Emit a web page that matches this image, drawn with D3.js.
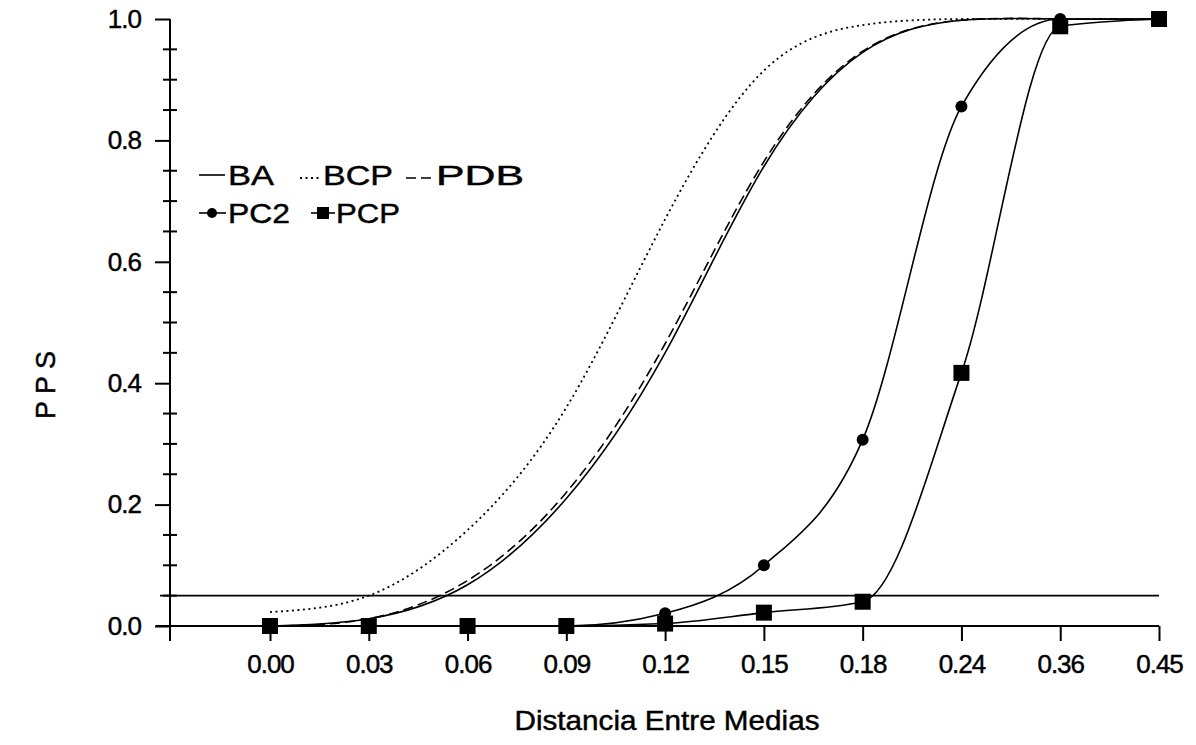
<!DOCTYPE html>
<html>
<head>
<meta charset="utf-8">
<script src="https://cdn.jsdelivr.net/npm/d3@7"></script>
<style>
  html, body { margin: 0; padding: 0; background: #fff; }
  svg { display: block; }
  text { font-family: "Liberation Sans", Arial, sans-serif; fill: #000; stroke: #000; stroke-width: 0.45px; }
</style>
</head>
<body>
<svg id="chart" width="1196" height="745"></svg>
<script>
// ---- data ----
const categories = ["0.00","0.03","0.06","0.09","0.12","0.15","0.18","0.24","0.36","0.45"];
const BA  = [0.000, 0.012, 0.068, 0.210, 0.450, 0.757, 0.945, 0.998, 1.000, 1.000];
const BCP = [0.023, 0.050, 0.158, 0.360, 0.670, 0.915, 0.990, 1.000, 1.000, 1.000];
const PDB = [0.000, 0.012, 0.075, 0.220, 0.465, 0.765, 0.947, 0.998, 1.000, 1.000];
const PC2 = [0.000, 0.000, 0.000, 0.000, 0.021, 0.100, 0.307, 0.856, 1.000, 1.000];
const PCP = [0.000, 0.000, 0.000, 0.000, 0.004, 0.022, 0.040, 0.417, 0.988, 1.000];
const yTicks = [0, 0.2, 0.4, 0.6, 0.8, 1.0];
const yMinor = d3.range(0, 1.0001, 0.05);
const refLine = 0.05;
const xTitle = "Distancia Entre Medias";
const yTitle = "P P S";

// ---- layout ----
const svg = d3.select("#chart");
const axisX = 170, axisBottom = 626, axisTop = 19;
const x = d3.scalePoint().domain(categories).range([270, 1159]);
const y = d3.scaleLinear().domain([0, 1]).range([axisBottom, axisTop]);

const g = svg.append("g");

// reference line at 0.05
g.append("line")
  .attr("x1", 160).attr("x2", x("0.45"))
  .attr("y1", y(refLine)).attr("y2", y(refLine))
  .attr("stroke", "#000").attr("stroke-width", 1.6);

// x axis baseline
g.append("line")
  .attr("x1", 156).attr("x2", x("0.45"))
  .attr("y1", y(0)).attr("y2", y(0))
  .attr("stroke", "#000").attr("stroke-width", 2);

// y axis line
g.append("line")
  .attr("x1", axisX).attr("x2", axisX)
  .attr("y1", y(1)).attr("y2", 641)
  .attr("stroke", "#000").attr("stroke-width", 2);

// y axis major ticks + labels
const yAxis = d3.axisLeft(y).tickValues(yTicks).tickFormat(d3.format(".1f"))
  .tickSize(15).tickPadding(14).tickSizeOuter(0);
const gy = g.append("g").attr("transform", `translate(${axisX},0)`).call(yAxis);
gy.select(".domain").remove();
gy.selectAll(".tick line").attr("stroke", "#000").attr("stroke-width", 2);
gy.selectAll(".tick text").attr("font-size", 26).style("font-family", "Liberation Sans, Arial, sans-serif")
  .attr("letter-spacing", -1);

// y minor ticks
g.append("g").selectAll("line")
  .data(yMinor.filter(v => !yTicks.some(t => Math.abs(t - v) < 1e-6)))
  .join("line")
  .attr("x1", axisX - 7).attr("x2", axisX + 7)
  .attr("y1", d => y(d)).attr("y2", d => y(d))
  .attr("stroke", "#000").attr("stroke-width", 2);

// x axis ticks + labels
const xAxis = d3.axisBottom(x).tickSize(15).tickPadding(14).tickSizeOuter(0);
const gx = g.append("g").attr("transform", `translate(0,${axisBottom})`).call(xAxis);
gx.select(".domain").remove();
gx.selectAll(".tick line").attr("stroke", "#000").attr("stroke-width", 2);
gx.selectAll(".tick text").attr("font-size", 26).style("font-family", "Liberation Sans, Arial, sans-serif")
  .attr("letter-spacing", -1);

// ---- series ----
const lineNatural = d3.line().x((d, i) => x(categories[i])).y(d => y(d)).curve(d3.curveNatural);
const lineMono = d3.line().x((d, i) => x(categories[i])).y(d => y(d)).curve(d3.curveMonotoneX);

g.append("path").attr("d", lineNatural(BCP)).attr("fill", "none")
  .attr("stroke", "#000").attr("stroke-width", 1.8).attr("stroke-dasharray", "2,3.5");
g.append("path").attr("d", lineNatural(PDB)).attr("fill", "none")
  .attr("stroke", "#000").attr("stroke-width", 1.6).attr("stroke-dasharray", "10,5");
g.append("path").attr("d", lineNatural(BA)).attr("fill", "none")
  .attr("stroke", "#000").attr("stroke-width", 1.6);
g.append("path").attr("d", lineMono(PC2)).attr("fill", "none")
  .attr("stroke", "#000").attr("stroke-width", 1.6);
g.append("path").attr("d", lineMono(PCP)).attr("fill", "none")
  .attr("stroke", "#000").attr("stroke-width", 1.6);

g.append("g").selectAll("circle").data(PC2).join("circle")
  .attr("cx", (d, i) => x(categories[i])).attr("cy", d => y(d)).attr("r", 6).attr("fill", "#000");
g.append("g").selectAll("rect").data(PCP).join("rect")
  .attr("x", (d, i) => x(categories[i]) - 8).attr("y", d => y(d) - 8)
  .attr("width", 16).attr("height", 16).attr("fill", "#000");

// ---- legend ----
const leg = g.append("g");
const row1 = 175, row2 = 213;
function legText(xp, yp, t, w) {
  leg.append("text").attr("x", xp).attr("y", yp + 10).attr("font-size", 28)
    .attr("textLength", w).attr("lengthAdjust", "spacingAndGlyphs").text(t);
}
leg.append("line").attr("x1", 199).attr("x2", 225).attr("y1", row1).attr("y2", row1)
  .attr("stroke", "#000").attr("stroke-width", 1.6);
legText(228, row1, "BA", 46);
leg.append("line").attr("x1", 300).attr("x2", 321).attr("y1", row1 + 3).attr("y2", row1 + 3)
  .attr("stroke", "#000").attr("stroke-width", 1.8).attr("stroke-dasharray", "2,3.5");
legText(323, row1, "BCP", 70);
leg.append("line").attr("x1", 406).attr("x2", 433).attr("y1", row1 + 3).attr("y2", row1 + 3)
  .attr("stroke", "#000").attr("stroke-width", 1.6).attr("stroke-dasharray", "10,5");
legText(436, row1, "PDB", 88);
leg.append("line").attr("x1", 199).attr("x2", 226).attr("y1", row2).attr("y2", row2)
  .attr("stroke", "#000").attr("stroke-width", 1.6);
leg.append("circle").attr("cx", 212).attr("cy", row2).attr("r", 5).attr("fill", "#000");
legText(228, row2, "PC2", 62);
leg.append("line").attr("x1", 311).attr("x2", 335).attr("y1", row2).attr("y2", row2)
  .attr("stroke", "#000").attr("stroke-width", 1.6);
leg.append("rect").attr("x", 317).attr("y", row2 - 6).attr("width", 12).attr("height", 12).attr("fill", "#000");
legText(336, row2, "PCP", 64);

// ---- titles ----
g.append("text").attr("x", 667).attr("y", 730).attr("text-anchor", "middle")
  .attr("font-size", 27).attr("textLength", 305).attr("lengthAdjust", "spacingAndGlyphs")
  .text(xTitle);
g.append("text").attr("transform", "translate(55,385) rotate(-90)").attr("text-anchor", "middle")
  .attr("font-size", 27).text(yTitle);
</script>
</body>
</html>
